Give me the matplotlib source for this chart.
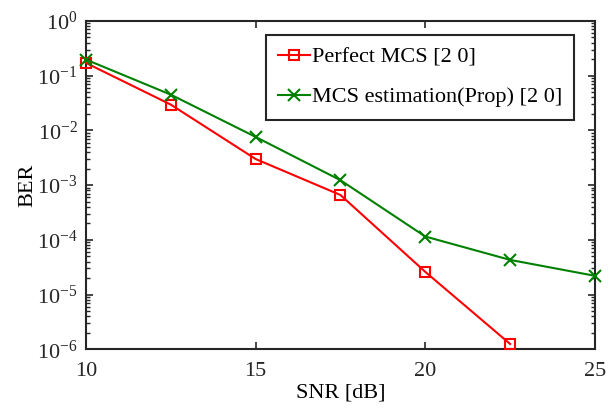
import matplotlib
matplotlib.use("Agg")
import matplotlib.pyplot as plt
from matplotlib.ticker import LogLocator, NullFormatter

plt.rcParams['font.family'] = ['Liberation Serif', 'DejaVu Serif']
plt.rcParams['mathtext.fontset'] = 'custom'
plt.rcParams['mathtext.rm'] = 'Liberation Serif'
plt.rcParams['mathtext.it'] = 'Liberation Serif:italic'

# data
snr = [10, 12.5, 15, 17.5, 20, 22.5, 25]
ber_perfect = [0.171, 0.0296, 0.0030, 0.00066, 2.6e-5, 1.25e-6]
ber_prop = [0.197, 0.045, 0.0076, 0.00123, 1.15e-4, 4.3e-5, 2.2e-5]

fig = plt.figure(figsize=(6.15, 4.08), dpi=100)
ax = fig.add_axes([0.1398, 0.1439, 0.8276, 0.8047])

ax.semilogy(snr[:len(ber_perfect)], ber_perfect, '-s', color='red', lw=1.5,
            ms=7.5, mfc='none', mew=1.5, label='Perfect MCS [2 0]', clip_on=False, zorder=3)
ax.semilogy(snr, ber_prop, '-x', color='#008000', lw=1.5,
            ms=8.5, mew=1.5, label='MCS estimation(Prop) [2 0]', clip_on=False, zorder=3)

ax.set_xlim(10, 25)
ax.set_ylim(1e-6, 1)
ax.set_xticks([10, 15, 20, 25])
ax.yaxis.set_major_locator(LogLocator(base=10, numticks=10))
ax.yaxis.set_minor_locator(LogLocator(base=10, subs=range(2, 10), numticks=20))
ax.yaxis.set_minor_formatter(NullFormatter())

ax.tick_params(which='both', direction='in', top=True, right=True, labelsize=16, colors='#262626')
ax.tick_params(which='major', length=5, width=1.2)
ax.tick_params(which='minor', length=3, width=1.0)
ax.tick_params(axis='x', pad=9)
ax.tick_params(axis='y', pad=6)
for s in ax.spines.values():
    s.set_linewidth(1.5)
    s.set_color('#262626')

ax.set_xlabel('SNR [dB]', fontsize=16, labelpad=2)
ax.set_ylabel('BER', fontsize=16, labelpad=0)

leg = ax.legend(loc='upper right', bbox_to_anchor=(0.959, 0.957), borderaxespad=0,
                fontsize=16, fancybox=False, edgecolor='#262626', framealpha=1,
                handlelength=1.45, handletextpad=0.05, borderpad=0.55, labelspacing=0.85)
leg.get_frame().set_linewidth(1.5)

fig.savefig('out.png', dpi=100)
